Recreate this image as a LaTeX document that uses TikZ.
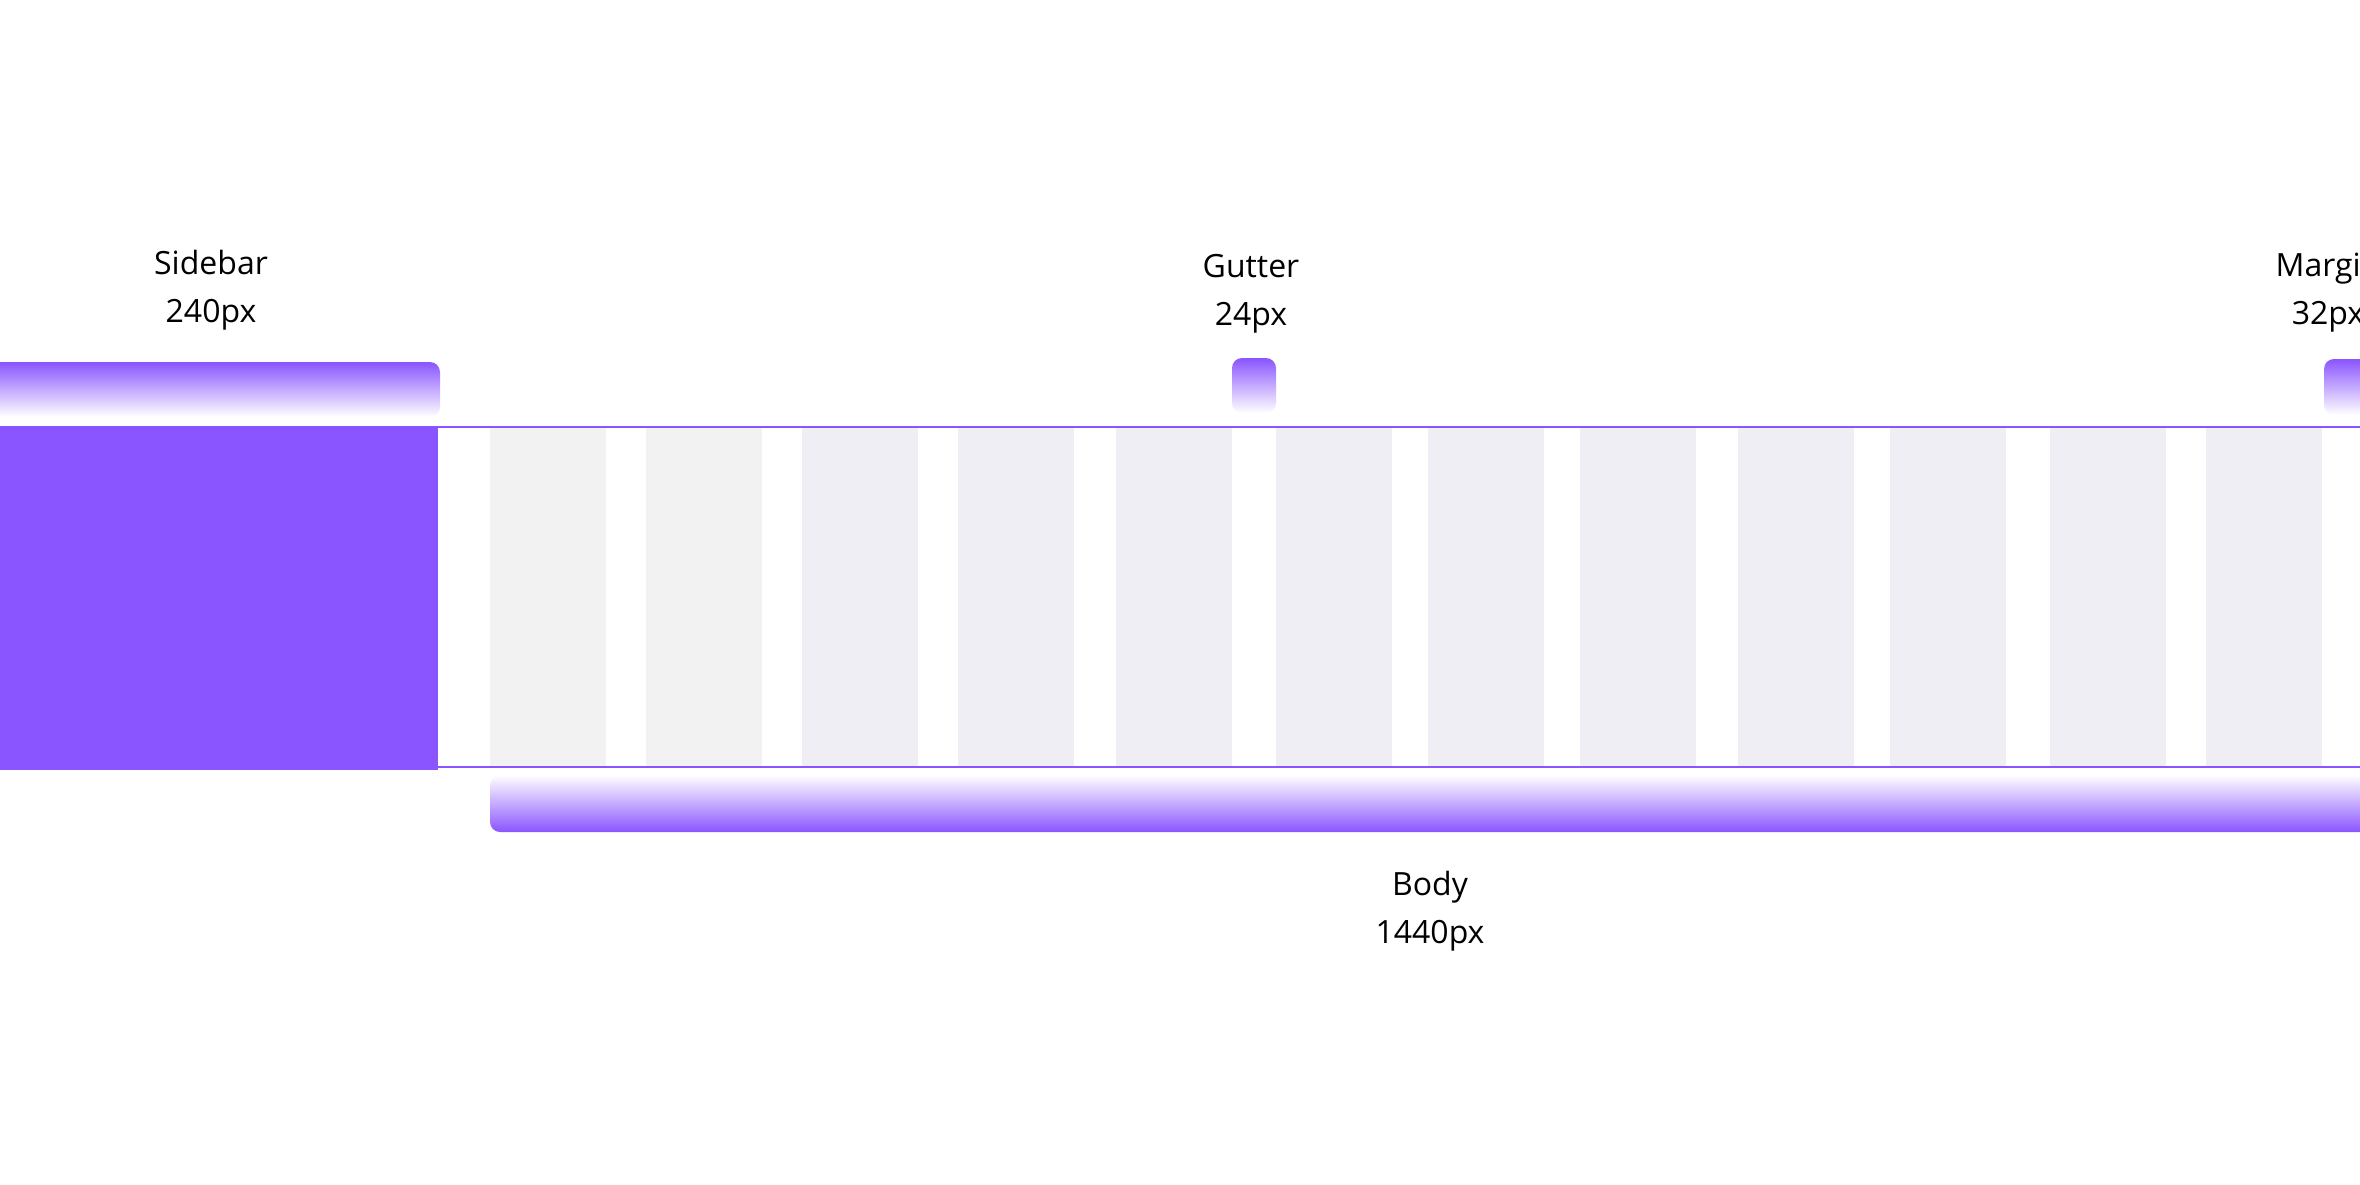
\documentclass[tikz,border=0pt]{standalone}
\usepackage{fontspec}
\setmainfont{Open Sans}
\definecolor{accent}{RGB}{138,85,255}
\definecolor{colgrey}{RGB}{242,242,242}
\definecolor{collav}{RGB}{239,238,244}

\begin{document}
\begin{tikzpicture}[x=0.01cm,y=-0.01cm,
    lbl/.style={align=center,inner sep=0pt,font=\fontsize{9.1}{13.66}\selectfont},
    topbar/.style={rounded corners=0.1cm,top color=accent,bottom color=white},
    botbar/.style={rounded corners=0.1cm,top color=white,bottom color=accent}]
    \useasboundingbox (0,0) rectangle (2360,1184);
    \clip (0,0) rectangle (2360,1184);
    % columns
    \foreach \x/\c in {490/colgrey,646/colgrey,802/collav,958/collav,1116/collav,1276/collav,
                       1428/collav,1580/collav,1738/collav,1890/collav,2050/collav,2206/collav}
      \fill[\c] (\x,428) rectangle ++(116,338);
    \draw[accent,line width=0.02cm] (438,427) -- (2360,427);
    \draw[accent,line width=0.02cm] (438,767) -- (2360,767);
    \fill[accent] (0,426) rectangle (438,770);
    % brackets
    \path[topbar] (-20,362) rectangle (440,417);
    \path[topbar] (1232,358) rectangle (1276,413);
    \path[topbar] (2324,359) rectangle (2420,415);
    \path[botbar] (490,775) rectangle (2420,832);
    % labels
    \node[lbl] (sidebar) at (211,290) {Sidebar\\240px};
    \node[lbl] (gutter) at (1251,294) {Gutter\\24px};
    \node[lbl] (margin) at (2328,293) {Margin\\32px};
    \node[lbl] (body) at (1430,911) {Body\\1440px};
\end{tikzpicture}
\end{document}
